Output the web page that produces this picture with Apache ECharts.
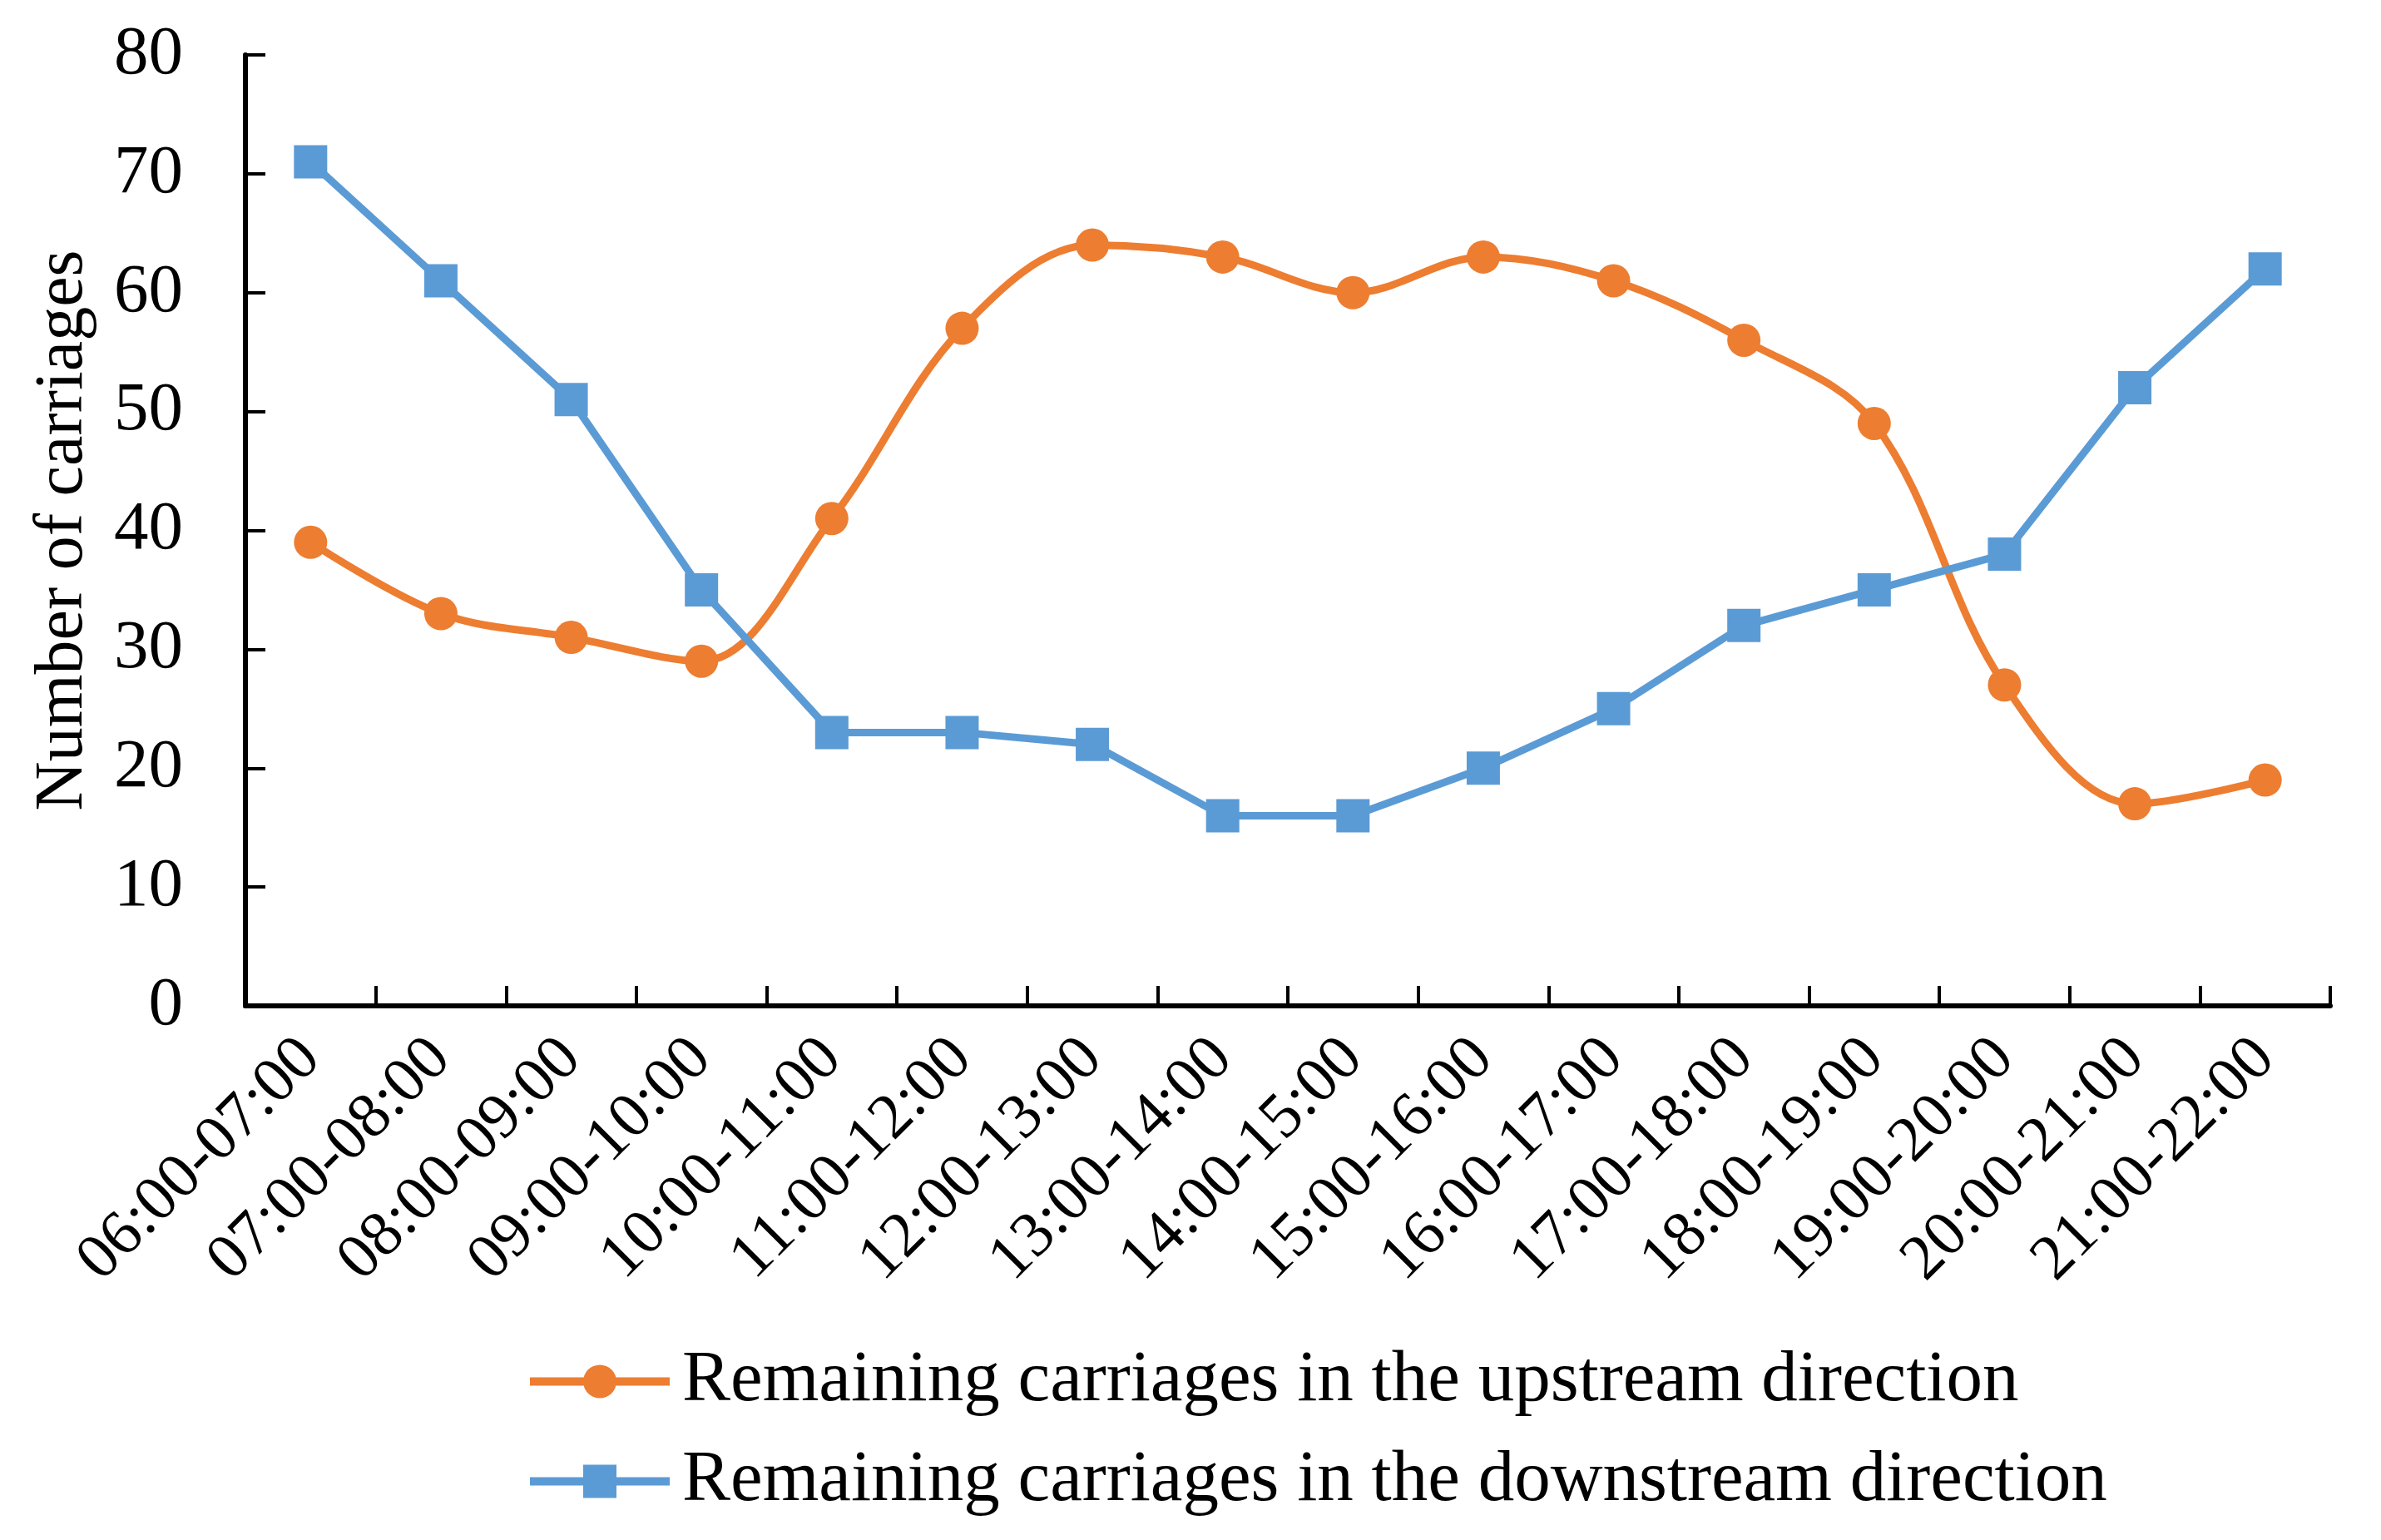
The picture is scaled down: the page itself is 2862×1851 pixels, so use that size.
<!DOCTYPE html>
<html>
<head>
<meta charset="utf-8">
<script src="https://cdn.jsdelivr.net/npm/echarts@6/dist/echarts.min.js"></script>
<style>
html,body{margin:0;padding:0;background:#fff;}
#chart{width:2862px;height:1851px;}
</style>
</head>
<body>
<div id="chart"></div>
<script>
const categories = ['06:00-07:00','07:00-08:00','08:00-09:00','09:00-10:00','10:00-11:00','11:00-12:00','12:00-13:00','13:00-14:00','14:00-15:00','15:00-16:00','16:00-17:00','17:00-18:00','18:00-19:00','19:00-20:00','20:00-21:00','21:00-22:00'];
const upstream = [39,33,31,29,41,57,64,63,60,63,61,56,49,27,17,19];
const downstream = [71,61,51,35,23,23,22,16,16,20,25,32,35,38,52,62];
const seriesNames = ['Remaining carriages in the upstream direction','Remaining carriages in the downstream direction'];
const yAxisName = 'Number of carriages';

const font = 'Liberation Serif';
const chart = echarts.init(document.getElementById('chart'));
chart.setOption({
  backgroundColor: '#ffffff',
  animation: false,
  grid: {left: 295, right: 61, top: 66, bottom: 642, containLabel: false},
  legend: {
    orient: 'vertical',
    left: 627,
    top: 1612,
    itemWidth: 168,
    itemHeight: 50,
    itemGap: 33,
    lineStyle: {width: 10},
    textStyle: {fontFamily: font, fontSize: 87, color: '#000', padding: [0,0,0,10]},
    data: seriesNames
  },
  xAxis: {
    type: 'category',
    data: categories,
    boundaryGap: true,
    axisLine: {lineStyle: {color: '#000', width: 6}},
    axisTick: {show: true, inside: true, length: 24, lineStyle: {color: '#000', width: 4}, alignWithLabel: false},
    axisLabel: {interval: 0, rotate: 45, margin: 52, fontFamily: font, fontSize: 77, color: '#000'},
    splitLine: {show: false}
  },
  yAxis: {
    type: 'value',
    min: 0, max: 80, interval: 10,
    name: yAxisName,
    nameLocation: 'middle',
    nameGap: 178,
    nameTextStyle: {fontFamily: font, fontSize: 82, color: '#000'},
    axisLine: {show: true, lineStyle: {color: '#000', width: 6}},
    axisTick: {show: true, inside: true, length: 24, lineStyle: {color: '#000', width: 4}},
    axisLabel: {margin: 75, fontFamily: font, fontSize: 83, color: '#000'},
    splitLine: {show: false}
  },
  series: [
    {
      name: seriesNames[0], type: 'line', data: upstream, smooth: 0.35,
      symbol: 'circle', symbolSize: 40,
      lineStyle: {color: '#ED7D31', width: 9},
      itemStyle: {color: '#ED7D31'}
    },
    {
      name: seriesNames[1], type: 'line', data: downstream, smooth: false,
      symbol: 'rect', symbolSize: 40,
      lineStyle: {color: '#5B9BD5', width: 9},
      itemStyle: {color: '#5B9BD5'}
    }
  ]
});
</script>
</body>
</html>
